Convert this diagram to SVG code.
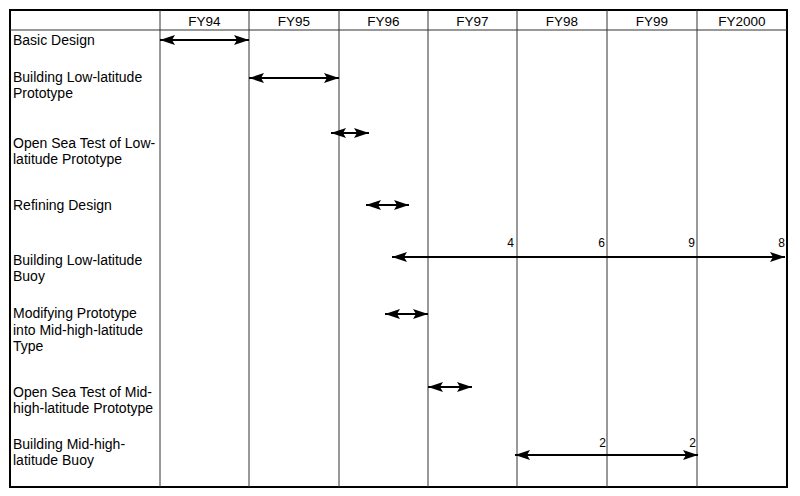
<svg xmlns="http://www.w3.org/2000/svg" width="800" height="496" viewBox="0 0 800 496">
<defs>
<marker id="ah" markerUnits="userSpaceOnUse" markerWidth="16" markerHeight="12" viewBox="0 0 16 12" refX="15" refY="6" orient="auto-start-reverse">
<path d="M0,1 L15,6 L0,11 L3,6 Z" fill="#000"/>
</marker>
<style>
.lbl{font-family:"Liberation Sans",Arial,sans-serif;font-size:14px;fill:#000}
.hdr{font-family:"Liberation Sans",Arial,sans-serif;font-size:13.5px;fill:#000;text-anchor:middle}
.num{font-family:"Liberation Sans",Arial,sans-serif;font-size:12px;fill:#000;text-anchor:end}
.grid{stroke:#333;stroke-width:1;fill:none}
.arr{stroke:#000;stroke-width:1.8;fill:none;marker-start:url(#ah);marker-end:url(#ah)}
</style>
</defs>
<rect width="800" height="496" fill="#fff"/>
<g id="table">
<rect x="10" y="10" width="777" height="477" fill="none" stroke="#000" stroke-width="2"/>
<line class="grid" x1="10" y1="30" x2="787" y2="30"/>
<line class="grid" x1="160" y1="10" x2="160" y2="487"/>
<line class="grid" x1="249" y1="10" x2="249" y2="487"/>
<line class="grid" x1="339" y1="10" x2="339" y2="487"/>
<line class="grid" x1="428" y1="10" x2="428" y2="487"/>
<line class="grid" x1="517" y1="10" x2="517" y2="487"/>
<line class="grid" x1="607" y1="10" x2="607" y2="487"/>
<line class="grid" x1="697" y1="10" x2="697" y2="487"/>
</g>
<g id="header">
<text class="hdr" x="204.5" y="26">FY94</text>
<text class="hdr" x="294" y="26">FY95</text>
<text class="hdr" x="383.5" y="26">FY96</text>
<text class="hdr" x="472.5" y="26">FY97</text>
<text class="hdr" x="562" y="26">FY98</text>
<text class="hdr" x="652" y="26">FY99</text>
<text class="hdr" x="742" y="26">FY2000</text>
</g>
<g id="labels">
<g id="row1"><text class="lbl" x="13" y="45">Basic Design</text></g>
<g id="row2"><text class="lbl" x="13" y="82">Building Low-latitude</text><text class="lbl" x="13" y="98">Prototype</text></g>
<g id="row3"><text class="lbl" x="13" y="148">Open Sea Test of Low-</text><text class="lbl" x="13" y="164">latitude Prototype</text></g>
<g id="row4"><text class="lbl" x="13" y="210">Refining Design</text></g>
<g id="row5"><text class="lbl" x="13" y="265">Building Low-latitude</text><text class="lbl" x="13" y="281">Buoy</text></g>
<g id="row6"><text class="lbl" x="13" y="318">Modifying Prototype</text><text class="lbl" x="13" y="335">into Mid-high-latitude</text><text class="lbl" x="13" y="351">Type</text></g>
<g id="row7"><text class="lbl" x="13" y="397">Open Sea Test of Mid-</text><text class="lbl" x="13" y="413">high-latitude Prototype</text></g>
<g id="row8"><text class="lbl" x="13" y="449">Building Mid-high-</text><text class="lbl" x="13" y="465">latitude Buoy</text></g>
</g>
<g id="connectors">
<line class="arr" x1="160" y1="40" x2="249" y2="40"/>
<line class="arr" x1="249" y1="78" x2="339" y2="78"/>
<line class="arr" x1="331" y1="133" x2="369" y2="133"/>
<line class="arr" x1="366" y1="205" x2="409" y2="205"/>
<line class="arr" x1="392" y1="257" x2="785" y2="257"/>
<line class="arr" x1="385" y1="314" x2="428" y2="314"/>
<line class="arr" x1="428" y1="387" x2="472" y2="387"/>
<line class="arr" x1="515" y1="455" x2="698" y2="455"/>
</g>
<g id="numbers">
<text class="num" x="514" y="247">4</text>
<text class="num" x="605" y="247">6</text>
<text class="num" x="695" y="247">9</text>
<text class="num" x="785" y="247">8</text>
<text class="num" x="606" y="447">2</text>
<text class="num" x="696" y="447">2</text>
</g>
</svg>
